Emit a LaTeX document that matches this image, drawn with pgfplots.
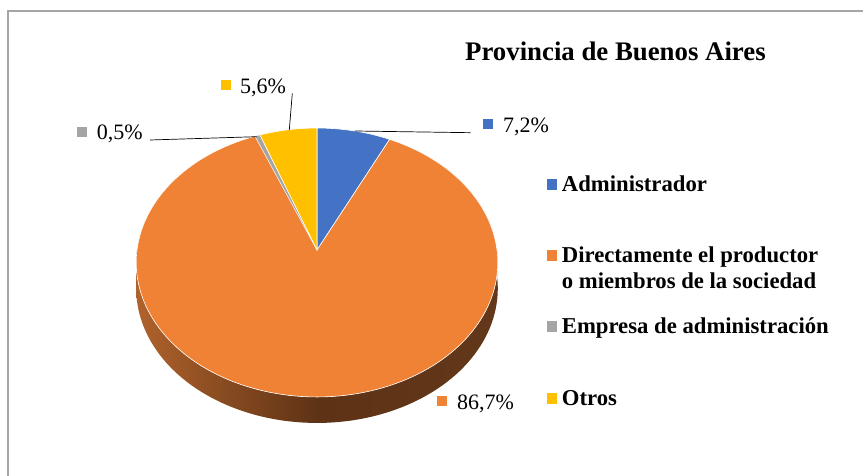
\documentclass[border=0pt]{standalone}
\usepackage{pgfplots}
\pgfplotsset{compat=1.18}
\usepackage{fontspec}
\setmainfont{Liberation Serif}
\definecolor{cA}{HTML}{4472C4}
\definecolor{cB}{HTML}{EF8235}
\definecolor{cC}{HTML}{A5A5A5}
\definecolor{cD}{HTML}{FFC000}
\definecolor{sideL}{HTML}{B0622C}
\definecolor{sideM}{HTML}{5E3315}
\definecolor{sideR}{HTML}{63371A}
\definecolor{frame}{HTML}{A6A6A6}
\begin{document}
\begin{tikzpicture}
\useasboundingbox (0,0) rectangle (863pt,476pt);
\begin{axis}[
  at={(0,0)}, anchor=south west,
  x=1pt, y=1pt, xmin=0, xmax=863, ymin=0, ymax=476,
  hide axis, clip=false,
  declare function={
    th(\t)=ifthenelse(\t<=270,\t,540-\t);
    dz(\t)=ifthenelse(\t<=270,0,26);
    PX(\a)=317+180*sin(\a)/(1+0.093*cos(\a));
    PY(\a)=226+133.3*cos(\a)/(1+0.093*cos(\a));
  },
]
% frame
\draw[frame, line width=1.5pt] (axis cs:8,-5) -- (axis cs:8,465) -- (axis cs:870,465);

% pie side (3D depth)
\addplot[draw=none, left color=sideL, right color=sideR, middle color=sideM,
  domain=90:450, samples=181, variable=\t]
  ({PX(th(\t))},{PY(th(\t))-dz(\t)}) -- cycle;

% slices: Administrador 7.2, Directamente 86.7, Empresa 0.5, Otros 5.6 (clockwise from top)
\addplot[fill=cA, draw=white, line width=0.6pt, domain=0:25.92, samples=40]
  ({PX(x)},{PY(x)}) -- (axis cs:317,226) -- cycle;
\addplot[fill=cB, draw=white, line width=0.6pt, domain=25.92:338.04, samples=240]
  ({PX(x)},{PY(x)}) -- (axis cs:317,226) -- cycle;
\addplot[fill=cC, draw=white, line width=0.3pt, domain=338.04:339.84, samples=5]
  ({PX(x)},{PY(x)}) -- (axis cs:317,226) -- cycle;
\addplot[fill=cD, draw=white, line width=0.6pt, domain=339.84:360, samples=30]
  ({PX(x)},{PY(x)}) -- (axis cs:317,226) -- cycle;

% leader lines
\addplot[black, line width=0.7pt] coordinates {(355,345) (470.7,343.3)};
\addplot[black, line width=0.7pt] coordinates {(150,336) (256.7,339.3)};
\addplot[black, line width=0.7pt] coordinates {(292.3,382.7) (289.3,346)};

% data label markers
\addplot[only marks, mark=square*, mark size=4.6pt, color=cA] coordinates {(487.5,352)};
\addplot[only marks, mark=square*, mark size=4.6pt, color=cC] coordinates {(81.5,344.5)};
\addplot[only marks, mark=square*, mark size=4.6pt, color=cD] coordinates {(225.3,391.3)};
\addplot[only marks, mark=square*, mark size=4.6pt, color=cB] coordinates {(441.5,75)};

% data labels
\node[anchor=base west, inner sep=0pt, font=\fontsize{22}{26}\selectfont] at (axis cs:503,343) {7,2\%};
\node[anchor=base west, inner sep=0pt, font=\fontsize{22}{26}\selectfont] at (axis cs:96.7,336.7) {0,5\%};
\node[anchor=base west, inner sep=0pt, font=\fontsize{22}{26}\selectfont] at (axis cs:240,382.7) {5,6\%};
\node[anchor=base west, inner sep=0pt, font=\fontsize{22}{26}\selectfont] at (axis cs:457,66) {86,7\%};

% title
\node[anchor=base west, inner sep=0pt, font=\fontsize{26.8}{30}\selectfont\bfseries] at (axis cs:465,415.3) {Provincia de Buenos Aires};

% legend markers
\addplot[only marks, mark=square*, mark size=4.8pt, color=cA] coordinates {(551.5,291.8)};
\addplot[only marks, mark=square*, mark size=4.8pt, color=cB] coordinates {(551.5,220.5)};
\addplot[only marks, mark=square*, mark size=4.8pt, color=cC] coordinates {(551.5,149.5)};
\addplot[only marks, mark=square*, mark size=4.8pt, color=cD] coordinates {(551.5,77.5)};

% legend texts
\node[anchor=base west, inner sep=0pt, font=\fontsize{22.7}{25}\selectfont\bfseries] at (axis cs:561.7,284.3) {Administrador};
\node[anchor=base west, inner sep=0pt, font=\fontsize{22.7}{25}\selectfont\bfseries] at (axis cs:561.7,213) {Directamente el productor};
\node[anchor=base west, inner sep=0pt, font=\fontsize{22.7}{25}\selectfont\bfseries] at (axis cs:561.7,187.7) {o miembros de la sociedad};
\node[anchor=base west, inner sep=0pt, font=\fontsize{22.7}{25}\selectfont\bfseries] at (axis cs:561.7,142) {Empresa de administración};
\node[anchor=base west, inner sep=0pt, font=\fontsize{22.7}{25}\selectfont\bfseries] at (axis cs:561.7,70) {Otros};
\end{axis}
\end{tikzpicture}
\end{document}
